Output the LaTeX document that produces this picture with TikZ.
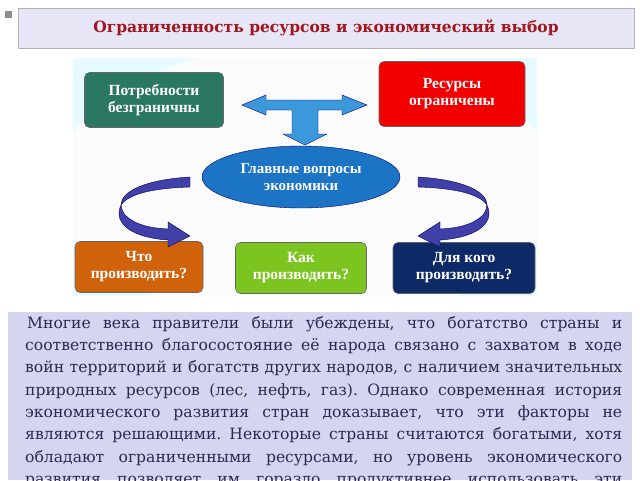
\documentclass[tikz,border=0pt]{standalone}
\usepackage{fontspec}
\setmainfont{DejaVu Serif}
\newfontfamily\boxfont{Liberation Serif}
\usetikzlibrary{shapes.geometric,shapes.arrows}
\definecolor{lav}{HTML}{D5D5F2}
\definecolor{titlered}{HTML}{A0161C}
\definecolor{txt}{HTML}{2A2A50}
\definecolor{tealb}{HTML}{2A7764}
\definecolor{greenb}{HTML}{7CC420}
\definecolor{ellb}{HTML}{1C74C4}
\definecolor{orb}{HTML}{D0620C}
\definecolor{navb}{HTML}{0E2A66}
\tikzset{
  qbox/.style={rounded corners=5pt,draw=black!60,line width=0.6pt,text=white,font=\boxfont\bfseries\fontsize{15.5}{17}\selectfont,align=center},
  carrow/.style={fill=blue!55!black!75,draw=blue!30!black,line width=0.4pt}
}
\frenchspacing
\begin{document}
\begin{tikzpicture}[x=1pt,y=-1pt]
\useasboundingbox (0,0) rectangle (640,480);
\fill[white] (0,0) rectangle (640,480);
\fill[black!45] (5,11) rectangle (12,18);
\node[draw=black!30,fill=lav!60,minimum width=616,minimum height=40,anchor=north west] (title) at (18,8) {};
\node[text=titlered,font=\bfseries\fontsize{15.5}{17}\selectfont] (tt) at (326,28) {Ограниченность ресурсов и экономический выбор};
\begin{scope}
\clip (73,58) rectangle (537,296);
\fill[blue!14!cyan!10] (73,58) rectangle (537,296);
\fill[gray!3] (305,185) ellipse (250 and 140);
\end{scope}
\node[qbox,fill=tealb,minimum width=139,minimum height=55] (p) at (154,100) {Потребности\\безграничны};
\node[qbox,fill=red!95!black,minimum width=146,minimum height=65] (r) at (452,94) {Ресурсы\\ограничены};
\node[ellipse,draw=blue!50!black,fill=ellb,minimum width=198,minimum height=62,text=white,font=\boxfont\bfseries\fontsize{15}{17}\selectfont,align=center,inner sep=0pt] (e) at (301,177) {Главные вопросы\\экономики};
\node[qbox,fill=orb,minimum width=128,minimum height=51] (c) at (139,267) {Что\\производить?};
\node[qbox,fill=greenb,minimum width=131,minimum height=51] (k) at (301,268) {Как\\производить?};
\node[qbox,fill=navb,minimum width=142,minimum height=51] (d) at (464,268) {Для кого\\производить?};
\draw[fill=cyan!70!blue!80,draw=blue!50!black,line width=0.4pt]
 (242,105) -- (266,95) -- (266,100) -- (342,100) -- (342,95) -- (367,105) -- (342,115) -- (342,110)
 -- (318,110) -- (318,134) -- (327,134) -- (305,145) -- (283,134) -- (292,134) -- (292,110)
 -- (266,110) -- (266,115) -- cycle;
\draw[carrow] (190,177) .. controls (140,180) and (110,195) .. (125,215)
 .. controls (135,225) and (150,228) .. (168,229) -- (168,222) -- (190,236) -- (168,247) -- (168,240)
 .. controls (135,238) and (112,225) .. (121,205) .. controls (130,192) and (160,188) .. (190,187) -- cycle;
\draw[carrow] (418,177) .. controls (468,180) and (498,195) .. (483,215)
 .. controls (473,225) and (458,228) .. (440,229) -- (440,222) -- (418,236) -- (440,247) -- (440,240)
 .. controls (473,238) and (496,225) .. (487,205) .. controls (478,192) and (448,188) .. (418,187) -- cycle;
\fill[lav] (8,312) rectangle (632,480);
\begin{scope}
\clip (8,312) rectangle (632,480);
\node[anchor=north west,inner sep=0pt,text=txt,text width=597pt,font=\fontsize{15.6}{22.3}\selectfont,align=justify] (body) at (25,316) {\hspace*{2pt}Многие века правители были убеждены, что богатство страны и\linebreak
соответственно благосостояние её народа связано с захватом в ходе\linebreak
войн территорий и богатств других народов, с наличием значительных\linebreak
природных ресурсов (лес, нефть, газ). Однако современная история\linebreak
экономического развития стран доказывает, что эти факторы не\linebreak
являются решающими. Некоторые страны считаются богатыми, хотя\linebreak
обладают ограниченными ресурсами, но уровень экономического\linebreak
развития позволяет им гораздо продуктивнее использовать эти\linebreak
ресурсы.};
\end{scope}
\end{tikzpicture}
\end{document}
